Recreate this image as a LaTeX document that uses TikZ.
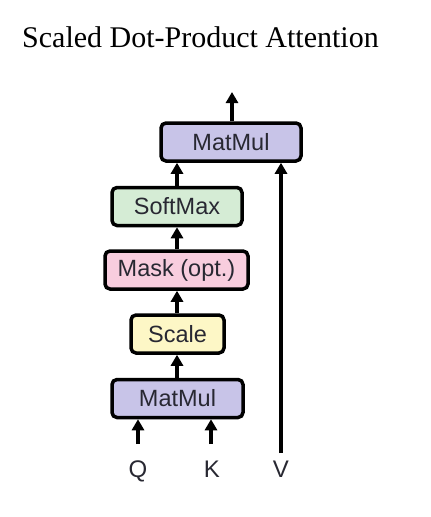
\documentclass[tikz,border=0pt]{standalone}
\usepackage{fontspec}
\setmainfont{Liberation Serif}
\newfontfamily\boxfont{Liberation Sans}
\usetikzlibrary{arrows.meta}
\definecolor{mmcol}{RGB}{200,196,232}
\definecolor{smcol}{RGB}{213,236,213}
\definecolor{mkcol}{RGB}{248,205,222}
\definecolor{sccol}{RGB}{253,247,198}
\definecolor{txtcol}{RGB}{40,40,50}
\tikzset{
  opbox/.style={draw=black, line width=3.5pt, rounded corners=5pt, minimum height=38pt,
    inner sep=0pt, font=\boxfont\fontsize{23.5}{26}\selectfont, text=txtcol},
  flow/.style={line width=3.5pt, -{Triangle[length=11pt,width=12pt]}},
  lbl/.style={font=\boxfont\fontsize{24}{26}\selectfont, text=txtcol, inner sep=0pt, anchor=base}
}
\begin{document}
\begin{tikzpicture}[x=1pt,y=-1pt]
\useasboundingbox[fill=white] (0,0) rectangle (431,517);
\node[anchor=base west, inner sep=0pt, font=\fontsize{30}{33}\selectfont] (title) at (22,47) {Scaled Dot-Product Attention};
\node[opbox, fill=mmcol, minimum width=140pt] (mm2) at (231,142) {MatMul};
\node[opbox, fill=smcol, minimum width=130pt] (sm) at (177,206.5) {SoftMax};
\node[opbox, fill=mkcol, minimum width=143pt] (mk) at (176.5,270) {Mask (opt.)};
\node[opbox, fill=sccol, minimum width=93pt] (sc) at (177.5,334) {Scale};
\node[opbox, fill=mmcol, minimum width=131pt] (mm1) at (177.5,398.5) {MatMul};
\coordinate (out) at (232,92);
\coordinate (qs) at (138,444);
\coordinate (ks) at (211,444);
\coordinate (vs) at (281,453);
\node[lbl] (q) at (138,477) {Q};
\node[lbl] (k) at (212,477) {K};
\node[lbl] (v) at (281,477) {V};
\draw[flow] (qs) -- (qs |- mm1.south);
\draw[flow] (ks) -- (ks |- mm1.south);
\draw[flow] (mm1.north -| 177,0) -- (sc.south -| 177,0);
\draw[flow] (sc.north -| 177,0) -- (mk.south -| 177,0);
\draw[flow] (mk.north -| 177,0) -- (sm.south -| 177,0);
\draw[flow] (sm.north -| 177,0) -- (mm2.south -| 177,0);
\draw[flow] (vs) -- (vs |- mm2.south);
\draw[flow] (mm2.north -| out) -- (out);
\end{tikzpicture}
\end{document}
